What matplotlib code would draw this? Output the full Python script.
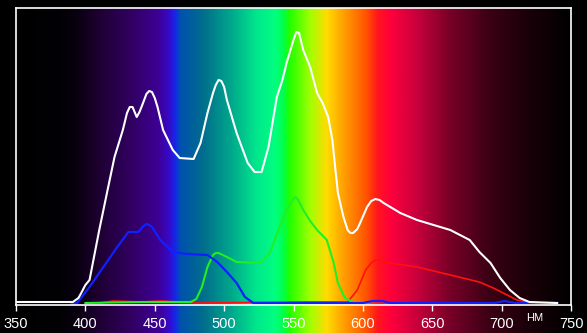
import numpy as np
import matplotlib
matplotlib.use("Agg")
import matplotlib.pyplot as plt

# wavelengths (nm) and intensities (arbitrary units)
white_nm = [350, 371, 391, 395, 397, 400, 403, 410, 416, 421, 427, 430, 432, 434, 437, 439, 441,
            444, 446, 448, 450, 452, 456, 463, 468, 478, 483, 488, 492, 494, 496, 498, 500,
            502, 509, 517, 522, 527, 532, 538, 542, 545, 550, 552, 554, 557, 562, 567, 571,
            575, 578, 580, 582, 586, 589, 591, 593, 596, 598, 603, 606, 609, 612, 615, 627,
            639, 651, 663, 677, 684, 692, 699, 706, 713, 720, 740]
white_val = [3, 3, 3, 7, 12, 20, 25, 75, 115, 148, 175, 192, 198, 198, 188, 193, 200,
             211, 214, 213, 207, 198, 175, 155, 147, 146, 162, 192, 212, 220, 225, 224, 218,
             205, 172, 142, 133, 133, 158, 208, 225, 242, 265, 273, 272, 255, 238, 212, 202,
             188, 165, 138, 112, 88, 75, 72, 72, 76, 82, 98, 104, 106, 105, 102, 92,
             85, 80, 75, 65, 53, 42, 27, 15, 7, 3, 2]

blue_nm = [390, 394, 403, 413, 423, 431, 438, 442, 444, 446, 448, 454, 463, 473, 488, 495,
           502, 509, 515, 521, 600, 607, 614, 620, 695, 702, 710, 740]
blue_val = [1, 2, 18, 38, 58, 73, 73, 79, 81, 80, 78, 65, 53, 51, 50, 43,
            33, 22, 8, 2, 2, 4, 4, 2, 2, 4, 2, 2]

green_nm = [400, 440, 476, 480, 484, 488, 492, 494, 496, 499, 502, 509, 526, 533, 540, 545,
            548, 551, 553, 557, 562, 567, 574, 579, 582, 587, 593, 600]
green_val = [2, 3, 3, 6, 18, 38, 50, 52, 52, 50, 48, 43, 42, 52, 78, 95,
             102, 108, 106, 95, 84, 75, 65, 42, 22, 7, 3, 2]

red_nm = [410, 420, 440, 455, 480, 560, 589, 596, 602, 606, 609, 612, 615, 639, 663, 684,
          694, 704, 711, 718, 728, 740]
red_val = [2, 4, 3, 4, 2, 3, 3, 15, 35, 42, 45, 45, 43, 38, 30, 23,
           17, 10, 5, 3, 2, 2]

ticks = [350, 400, 450, 500, 550, 600, 650, 700, 750]

# background spectrum colour stops
spec_nm = [350, 380, 393, 410, 434, 453, 460, 465, 468, 485, 506, 523, 537, 543, 547,
           562, 574, 586, 603, 611, 620, 639, 663, 691, 720, 750]
spec_rgb = [(0, 0, 0), (2, 0, 4), (8, 0, 14), (30, 0, 50), (50, 0, 100), (62, 0, 150),
            (55, 10, 200), (20, 40, 235), (0, 80, 175), (0, 110, 140), (0, 170, 140),
            (0, 230, 140), (0, 255, 128), (0, 255, 70), (30, 255, 0), (160, 255, 0),
            (255, 220, 0), (255, 160, 0), (255, 80, 0), (255, 20, 30), (255, 0, 60),
            (200, 0, 60), (120, 0, 40), (60, 0, 20), (25, 0, 8), (0, 0, 0)]

W, H = 587, 333
fig = plt.figure(figsize=(W / 100, H / 100), dpi=100, facecolor="black")

# spectrum strip behind the plot (runs down behind the tick labels)
bg = fig.add_axes([16 / W, 0, 555 / W, 325 / H])
grid = np.linspace(350, 750, 800)
rgb = np.array(spec_rgb) / 255.0
strip = np.stack([np.interp(grid, spec_nm, rgb[:, k]) for k in range(3)], axis=-1)
bg.imshow(strip[np.newaxis, :, :], aspect="auto", extent=(350, 750, 0, 1))
bg.set_axis_off()

ax = fig.add_axes([16 / W, 28 / H, 555 / W, 297 / H])
ax.set_facecolor("none")
ax.plot(red_nm, red_val, color="#ff1010", lw=1.2, solid_joinstyle="round")
ax.plot(green_nm, green_val, color="#22ee22", lw=1.5, solid_joinstyle="round")
ax.plot(blue_nm, blue_val, color="#1020ff", lw=1.6, solid_joinstyle="round")
ax.plot(white_nm, white_val, color="white", lw=1.5, solid_joinstyle="round")

ax.set_xlim(350, 750)
ax.set_ylim(0, 297)
ax.set_xticks(ticks)
ax.set_xticklabels([str(t) for t in ticks], fontfamily="Liberation Sans", fontsize=10.5, color="white")
ax.set_yticks([])
ax.tick_params(axis="x", direction="out", length=4, width=1, colors="white", pad=5)
for s in ax.spines.values():
    s.set_color("white")
    s.set_linewidth(1.2)

fig.text(535 / W, (H - 318) / H, "НМ", color="white", fontsize=8,
         fontfamily="Liberation Sans", ha="center", va="center")

fig.savefig("out.png", dpi=100, facecolor="black")
